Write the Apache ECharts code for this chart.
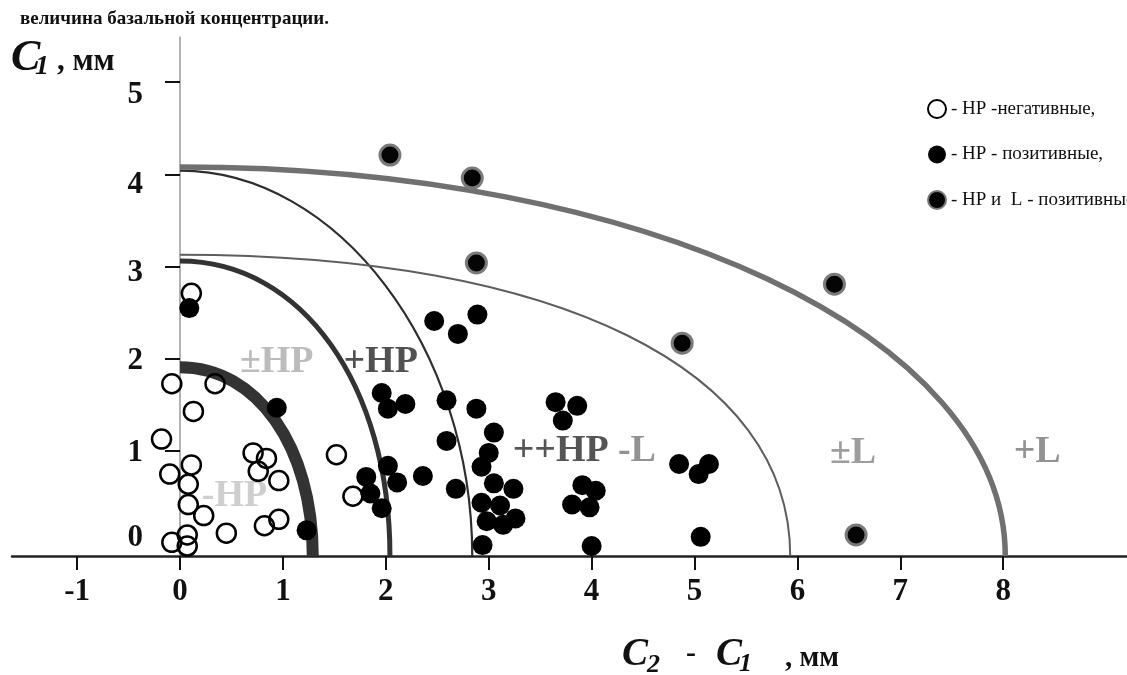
<!DOCTYPE html>
<html>
<head>
<meta charset="utf-8">
<script src="https://cdn.jsdelivr.net/npm/echarts@6/dist/echarts.min.js"></script>
<style>
html,body{margin:0;padding:0;background:#fff;}
#chart{width:1127px;height:675px;}
</style>
</head>
<body>
<div id="chart"></div>
<script>
// ---- tick values ----
const xTickValues = [-1, 0, 1, 2, 3, 4, 5, 6, 7, 8];
const yTickValues = [1, 2, 3, 4, 5];
const yLabelValues = [0, 1, 2, 3, 4, 5];

// ---- legend / series names ----
const seriesNames = ['- HP -негативные,', '- HP - позитивные,', '- HP и  L - позитивные,'];

// ---- scatter data [C2-C1, C1] ----
const hpNegative = [
  [0.11,2.71],[-0.08,1.73],[0.34,1.73],[0.13,1.43],[-0.18,1.13],[-0.10,0.75],[0.11,0.85],
  [0.08,0.64],[0.08,0.42],[0.23,0.30],[0.45,0.11],[-0.08,0.01],[0.07,0.09],[0.07,-0.03],
  [0.71,0.98],[0.84,0.92],[0.76,0.78],[0.96,0.68],[0.82,0.19],[0.96,0.26],[1.52,0.96],[1.68,0.51]
];
const hpPositive = [
  [0.09,2.55],[0.94,1.47],[1.23,0.14],[1.96,1.63],[2.02,1.46],[2.19,1.51],[1.81,0.72],
  [1.85,0.54],[1.96,0.38],[2.02,0.84],[2.11,0.66],[2.36,0.73],[2.47,2.41],[2.70,2.27],
  [2.89,2.48],[2.59,1.55],[2.88,1.46],[3.05,1.20],[2.59,1.11],[3.00,0.98],[2.93,0.83],
  [2.68,0.59],[3.05,0.65],[3.24,0.59],[2.93,0.44],[3.11,0.41],[2.98,0.24],[3.14,0.20],
  [3.26,0.27],[2.94,-0.02],[3.65,1.53],[3.86,1.49],[3.72,1.33],[3.91,0.63],[4.04,0.57],
  [3.81,0.42],[3.98,0.39],[4.00,-0.03],[4.85,0.86],[5.14,0.86],[5.04,0.75],[5.06,0.07]
];
const hpLPositive = [
  [2.04,4.21],[2.84,3.96],[2.88,3.04],[4.88,2.17],[6.36,2.81],[6.57,0.09]
];

// ---- boundary arcs: where each quarter-arc meets the C2-C1 axis and the C1 axis ----
const arcNames = ['-HP', '±HP', '+HP', '-L', '+L'];
const arcXIntercepts = [1.29, 2.04, 2.84, 5.93, 8.02];
const arcYIntercepts = [1.91, 3.06, 4.04, 3.13, 4.08];

// ---- region labels ----
const regionNames = ['-HP', '±HP', '+HP', '++HP', '-L', '±L', '+L'];
const regionX = [0.53, 0.94, 1.95, 3.70, 4.44, 6.54, 8.33];
const regionY = [0.51, 1.96, 1.96, 1.00, 1.00, 0.98, 0.99];

// ---- axis extents ----
const X_MIN = -1.633, X_MAX = 9.203, Y_MIN = -0.138, Y_MAX = 5.49;

// ---- styles ----
const SERIF = '"Liberation Serif", "Times New Roman", serif';
const regionColors = {'-HP':'#c2c2c2','±HP':'#ababab','+HP':'#262626','++HP':'#2a2a2a','-L':'#777777','±L':'#858585','+L':'#777777'};
// k = bezier roundness of each quarter arc
const arcStyles = {
  '-HP': {color:'#333333', width:12, k:0.58},
  '±HP': {color:'#333333', width:5, k:0.58},
  '+HP': {color:'#2e2e2e', width:2.2, k:0.54},
  '-L':  {color:'#5e5e5e', width:2, k:0.62},
  '+L':  {color:'#707070', width:5.5, k:0.565}
};
// hand-drawn y labels sit slightly off their ticks: padding per label (top, right, bottom, left)
const yLabelRich = {
  v0:{padding:[0,0,10,0]}, v1:{padding:[4,0,0,0]}, v2:{padding:[4,0,0,0]},
  v3:{padding:[12,0,0,0]}, v4:{padding:[22,0,0,0]}, v5:{padding:[26,0,0,0]}
};

const chart = echarts.init(document.getElementById('chart'), null, {renderer:'canvas'});

const arcData = arcNames.map((n,i) => ({name:n, value:[arcXIntercepts[i], arcYIntercepts[i]]}));

function renderArc(params, api) {
  const name = arcNames[params.dataIndex];
  const st = arcStyles[name];
  const c = api.coord([0, Y_MIN]);
  const px = api.coord([api.value(0), Y_MIN]);
  const py = api.coord([0, api.value(1)]);
  const rx = px[0] - c[0], ry = c[1] - py[1], k = st.k;
  const d = 'M' + c[0] + ',' + py[1] +
    ' C' + (c[0] + k * rx) + ',' + py[1] + ' ' + px[0] + ',' + (c[1] - k * ry) + ' ' + px[0] + ',' + c[1];
  return {
    type:'path',
    shape:{pathData:d},
    style:{fill:'none', stroke:st.color, lineWidth:st.width, lineCap:'butt'}
  };
}

const regionData = regionNames.map((n,i) => ({
  name:n, value:[regionX[i], regionY[i]],
  label:{color: regionColors[n]}
}));

const richFont = {fontSize:31, fontWeight:'bold', fontFamily:SERIF, color:'#111'};
Object.keys(yLabelRich).forEach(k => Object.assign(yLabelRich[k], richFont));

const option = {
  animation:false,
  backgroundColor:'#ffffff',
  grid:{left:12, right:0, top:37, bottom:119, containLabel:false, outerBoundsMode:'none'},
  xAxis:{
    type:'value', min:X_MIN, max:X_MAX,
    axisLine:{onZero:false, lineStyle:{color:'#222', width:2.5}},
    axisTick:{customValues:xTickValues, length:14, lineStyle:{color:'#111', width:2}},
    axisLabel:{customValues:xTickValues, margin:20, fontSize:31, fontWeight:'bold', fontFamily:SERIF, color:'#111'},
    splitLine:{show:false}
  },
  yAxis:{
    type:'value', min:Y_MIN, max:Y_MAX, position:'left', offset:-168,
    axisLine:{onZero:false, lineStyle:{color:'#999', width:1.5}},
    axisTick:{customValues:yTickValues, length:15, lineStyle:{color:'#111', width:2}},
    axisLabel:{
      customValues:yLabelValues, margin:37, fontSize:31, fontWeight:'bold', fontFamily:SERIF, color:'#111',
      formatter:v => '{v' + v + '|' + v + '}', rich:yLabelRich
    },
    splitLine:{show:false}
  },
  legend:{
    orient:'vertical', left:922, top:94, itemWidth:18, itemHeight:18, itemGap:26,
    data:seriesNames,
    textStyle:{fontFamily:SERIF, fontSize:19, color:'#111'}
  },
  graphic:[
    {type:'text', left:20, top:10, style:{text:'величина базальной концентрации.', font:'bold 19px "Liberation Serif"', fill:'#111'}},
    {type:'text', x:11, y:59, style:{text:'C', font:'italic bold 44px "Liberation Serif"', fill:'#111', verticalAlign:'middle'}},
    {type:'text', x:35, y:67, style:{text:'1', font:'italic bold 28px "Liberation Serif"', fill:'#111', verticalAlign:'middle'}},
    {type:'text', x:57, y:62, style:{text:', мм', font:'bold 31px "Liberation Serif"', fill:'#111', verticalAlign:'middle'}},
    {type:'text', x:622, y:655, style:{text:'C', font:'italic bold 39px "Liberation Serif"', fill:'#111', verticalAlign:'middle'}},
    {type:'text', x:647, y:665, style:{text:'2', font:'italic bold 26px "Liberation Serif"', fill:'#111', verticalAlign:'middle'}},
    {type:'text', x:686, y:654, style:{text:'-', font:'bold 30px "Liberation Serif"', fill:'#111', verticalAlign:'middle'}},
    {type:'text', x:716, y:655, style:{text:'C', font:'italic bold 39px "Liberation Serif"', fill:'#111', verticalAlign:'middle'}},
    {type:'text', x:739, y:664, style:{text:'1', font:'italic bold 26px "Liberation Serif"', fill:'#111', verticalAlign:'middle'}},
    {type:'text', x:785, y:659, style:{text:', мм', font:'bold 29px "Liberation Serif"', fill:'#111', verticalAlign:'middle'}}
  ],
  series:[
    {
      type:'custom', name:'arcs', data:arcData, renderItem:renderArc, silent:true, clip:false, z:1,
      encode:{x:0, y:1}
    },
    {
      type:'scatter', name:'regions', data:regionData, symbolSize:0, silent:true, z:3,
      itemStyle:{color:'#ffffff'},
      label:{show:true, position:'inside', formatter:p => p.name, fontSize:38, fontWeight:'bold', fontFamily:SERIF,
             textBorderWidth:0, textBorderColor:'transparent', textShadowBlur:0}
    },
    {
      type:'scatter', name:seriesNames[0], data:hpNegative, symbol:'circle', symbolSize:19, z:5,
      itemStyle:{color:'rgba(255,255,255,0)', borderColor:'#000', borderWidth:2.5, opacity:1}
    },
    {
      type:'scatter', name:seriesNames[1], data:hpPositive, symbol:'circle', symbolSize:20, z:5,
      itemStyle:{color:'#000', opacity:1}
    },
    {
      type:'scatter', name:seriesNames[2], data:hpLPositive, symbol:'circle', symbolSize:20, z:5,
      itemStyle:{color:'#050505', borderColor:'#7a7a7a', borderWidth:3, opacity:1}
    }
  ]
};
chart.setOption(option);
</script>
</body>
</html>
